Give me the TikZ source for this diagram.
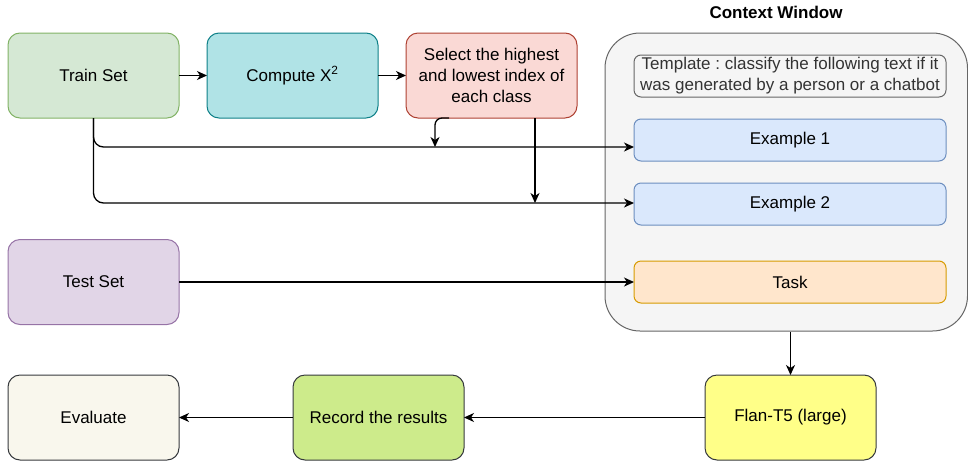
\documentclass[tikz,border=0pt]{standalone}
\usepackage{fontspec}
\setmainfont{Liberation Sans}
\frenchspacing
\usetikzlibrary{positioning}
\usetikzlibrary{arrows.meta}
\definecolor{trainfill}{HTML}{D5E8D4}
\definecolor{traindraw}{HTML}{82B366}
\definecolor{chifill}{HTML}{B0E3E6}
\definecolor{chidraw}{HTML}{0E8088}
\definecolor{selfill}{HTML}{FAD9D5}
\definecolor{seldraw}{HTML}{AE4132}
\definecolor{testfill}{HTML}{E1D5E7}
\definecolor{testdraw}{HTML}{9673A6}
\definecolor{evalfill}{HTML}{F9F7ED}
\definecolor{recfill}{HTML}{CDEB8B}
\definecolor{flanfill}{HTML}{FFFF88}
\definecolor{darkdraw}{HTML}{36393D}
\definecolor{ctxfill}{HTML}{F5F5F5}
\definecolor{ctxdraw}{HTML}{666666}
\definecolor{exfill}{HTML}{DAE8FC}
\definecolor{exdraw}{HTML}{6C8EBF}
\definecolor{taskfill}{HTML}{FFE6CC}
\definecolor{taskdraw}{HTML}{D79B00}
\tikzstyle{block} = [rectangle, rounded corners=12pt, draw, line width=1pt,
minimum width=171pt, minimum height=85pt, align=center, inner sep=0pt,
outer sep=0pt, font=\fontsize{17}{21}\selectfont, node distance=28pt]
\tikzstyle{slot} = [rectangle, rounded corners=7pt, draw, line width=1pt,
minimum width=312pt, minimum height=42pt, align=center, inner sep=0pt,
outer sep=0pt, font=\fontsize{17}{21}\selectfont, node distance=22pt]
\tikzstyle{window} = [rectangle, rounded corners=35pt, draw=ctxdraw, fill=ctxfill,
line width=1pt, minimum width=362.5pt, minimum height=298pt]
\tikzstyle{link} = [line width=1.3pt]
\tikzset{>={Stealth[length=10pt,width=9pt,inset=3pt]}}
\newcommand{\flow}[3][]{ %
  % Arrow from every node in #2 to every node in #3.
  \foreach \x in {#2} { %
    \foreach \y in {#3} { %
      \draw[link,->,#1] (\x) -- (\y) ;%
    } ;
  } ;
}

\begin{document}
\begin{tikzpicture}[x=1pt,y=-1pt]
  \useasboundingbox (0,0) rectangle (968,461);

  % top row
  \node[block, fill=trainfill, draw=traindraw] (train) at (93.5,75.5) {Train Set} ; %
  \node[block, fill=chifill, draw=chidraw, right=of train] (chi) {Compute X\textsuperscript{2}} ; %
  \node[block, fill=selfill, draw=seldraw, right=of chi] (select)
    {Select the highest\\and lowest index of\\each class} ; %

  % context window
  \node[window] (ctx) at (786.25,182) {} ;
  \node[font=\fontsize{17}{20}\selectfont\bfseries] (ctxtitle) at (776,12) {Context Window} ;
  \node[slot, draw=ctxdraw, text=black!80, fill=ctxfill] (tmpl) at (790,76)
    {Template : classify the following text if it\\was generated by a person or a chatbot} ; %
  \node[slot, fill=exfill, draw=exdraw, below=of tmpl] (ex1) {Example 1} ; %
  \node[slot, fill=exfill, draw=exdraw, below=of ex1] (ex2) {Example 2} ; %
  \node[slot, fill=taskfill, draw=taskdraw, below=36pt of ex2] (task) {Task} ; %

  % test set and bottom row
  \node[block, fill=testfill, draw=testdraw, below=121.5pt of train] (test) {Test Set} ; %
  \node[block, fill=evalfill, draw=darkdraw, below=50.5pt of test] (eval) {Evaluate} ; %
  \node[block, fill=recfill, draw=darkdraw, right=114pt of eval] (rec) {Record the results} ; %
  \node[block, fill=flanfill, draw=darkdraw, right=241pt of rec] (flan) {Flan-T5 (large)} ; %

  \coordinate (m1) at (435,147) ;
  \coordinate (m2) at (535,203) ;

  \flow {train} {chi} ;
  \flow {chi} {select} ;
  \flow {test} {task} ;
  \flow {flan} {rec} ;
  \flow {rec} {eval} ;

  \draw[link,->,rounded corners=10pt] (train.south) |- (ex1.west |- m1) ;
  \draw[link,->,rounded corners=10pt] (train.south) |- (ex2.west |- m2) ;
  \draw[link,->,rounded corners=7pt] ([xshift=43pt]select.south west) -| (m1) ;
  \draw[link,->] (m2 |- select.south) -- (m2) ;
  \draw[link,->] (flan.north |- ctx.south) -- (flan.north) ;
\end{tikzpicture}
\end{document}
